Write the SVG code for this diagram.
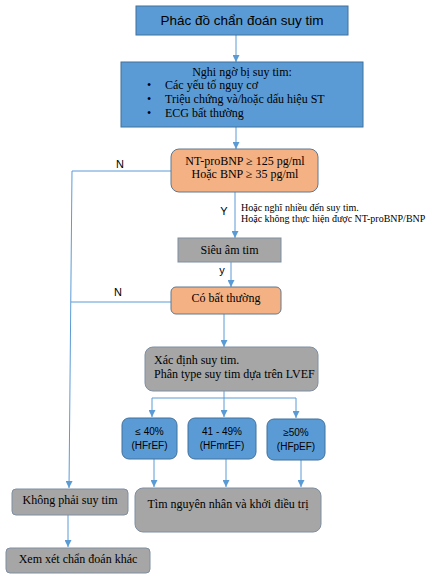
<svg xmlns="http://www.w3.org/2000/svg" width="439" height="580" viewBox="0 0 439 580">
<defs>
<marker id="ah" viewBox="0 0 8 8" refX="8" refY="4" markerWidth="7" markerHeight="7" markerUnits="userSpaceOnUse" orient="auto">
<path d="M0,0 L8,4 L0,8 Z" fill="#5b9bd5"/>
</marker>
</defs>
<style>
.blue{fill:#5b9bd5;stroke:#41719c;stroke-width:1}
.orange{fill:#f4b183;stroke:#5f7891;stroke-width:1}
.gray{fill:#a6a6a6;stroke:#7f8ea0;stroke-width:1}
.serif{font-family:"Liberation Serif","Times New Roman",serif;font-size:12px;fill:#000}
.small{font-family:"Liberation Serif","Times New Roman",serif;font-size:10px;fill:#000}
.sans{font-family:"Liberation Sans",Arial,sans-serif;fill:#000}
.c{text-anchor:middle}
.con line,.con polyline{stroke:#5b9bd5;stroke-width:1;fill:none}
.arr{marker-end:url(#ah)}
</style>
<rect width="439" height="580" fill="#ffffff"/>

<g class="con">
<line class="arr" x1="236" y1="35" x2="236" y2="62"/>
<line class="arr" x1="236" y1="127" x2="236" y2="149"/>
<line x1="171" y1="171" x2="72" y2="171"/>
<line class="arr" x1="72" y1="171" x2="69" y2="488"/>
<line class="arr" x1="235" y1="192" x2="235" y2="238"/>
<line class="arr" x1="231" y1="262" x2="231" y2="287"/>
<line x1="171" y1="302" x2="71" y2="302"/>
<line class="arr" x1="224" y1="314" x2="224" y2="347"/>
<line class="arr" x1="224" y1="391" x2="224" y2="417"/>
<line x1="152" y1="398" x2="296" y2="398"/>
<line class="arr" x1="152" y1="398" x2="152" y2="417"/>
<line class="arr" x1="296" y1="398" x2="296" y2="418"/>
<line class="arr" x1="154" y1="459" x2="154" y2="487"/>
<line class="arr" x1="226" y1="459" x2="226" y2="487"/>
<line class="arr" x1="301" y1="460" x2="301" y2="487"/>
<line class="arr" x1="68" y1="515" x2="68" y2="547"/>
<text class="sans c" x="120" y="168" font-size="11">N</text>
<text class="sans c" x="224" y="215" font-size="11">Y</text>
<text class="small" x="241" y="211">Hoặc nghĩ nhiều đến suy tim.</text>
<text class="small" x="241" y="222">Hoặc không thực hiện được NT-proBNP/BNP</text>
<text class="sans c" x="222" y="274" font-size="11">y</text>
<text class="sans c" x="118" y="296" font-size="11">N</text>
</g>

<g id="title">
<rect class="blue" x="136" y="6" width="212" height="29"/>
<text class="sans c" x="242" y="25" font-size="13.5">Phác đồ chẩn đoán suy tim</text>
</g>

<g id="nghi-ngo">
<rect class="blue" x="121" y="62" width="242" height="65"/>
<text class="serif c" x="242" y="76">Nghi ngờ bị suy tim:</text>
<text class="serif" x="147" y="89">•</text>
<text class="serif" x="165" y="89">Các yếu tố nguy cơ</text>
<text class="serif" x="147" y="103">•</text>
<text class="serif" x="165" y="103">Triệu chứng và/hoặc dấu hiệu ST</text>
<text class="serif" x="147" y="117">•</text>
<text class="serif" x="165" y="117">ECG bất thường</text>
</g>

<g id="bnp">
<rect class="orange" x="171" y="149" width="147" height="43" rx="8"/>
<text class="serif c" x="245" y="165">NT-proBNP ≥ 125 pg/ml</text>
<text class="serif c" x="245" y="178">Hoặc BNP ≥ 35 pg/ml</text>
</g>

<g id="sieu-am">
<rect class="gray" x="178" y="238" width="103" height="24"/>
<text class="serif c" x="229.5" y="254">Siêu âm tim</text>
</g>

<g id="bat-thuong">
<rect class="orange" x="171" y="287" width="110" height="27" rx="5"/>
<text class="serif c" x="226" y="302">Có bất thường</text>
</g>

<g id="xac-dinh">
<rect class="gray" x="145" y="347" width="173" height="44" rx="8"/>
<text class="serif" x="154" y="364">Xác định suy tim.</text>
<text class="serif" x="154" y="378">Phân type suy tim dựa trên LVEF</text>
</g>

<g id="hfref">
<rect class="blue" x="122" y="418" width="55" height="41" rx="7"/>
<text class="sans c" x="149.5" y="435" font-size="10">≤ 40%</text>
<text class="sans c" x="149.5" y="449" font-size="10">(HFrEF)</text>
</g>

<g id="hfmref">
<rect class="blue" x="188" y="418" width="68" height="41" rx="7"/>
<text class="sans c" x="222" y="435" font-size="10">41 - 49%</text>
<text class="sans c" x="222" y="449" font-size="10">(HFmrEF)</text>
</g>

<g id="hfpef">
<rect class="blue" x="267" y="419" width="58" height="41" rx="7"/>
<text class="sans c" x="296" y="436" font-size="10">≥50%</text>
<text class="sans c" x="296" y="450" font-size="10">(HFpEF)</text>
</g>

<g id="tim-nguyen-nhan">
<rect class="gray" x="135" y="488" width="186" height="44" rx="8"/>
<text class="serif c" x="228" y="508">Tìm nguyên nhân và khởi điều trị</text>
</g>

<g id="khong-phai">
<rect class="gray" x="12" y="489" width="116" height="26" rx="4"/>
<text class="serif c" x="70" y="504">Không phải suy tim</text>
</g>

<g id="xem-xet">
<rect class="gray" x="6" y="548" width="144" height="25" rx="4"/>
<text class="serif c" x="78" y="563">Xem xét chẩn đoán khác</text>
</g>
</svg>
